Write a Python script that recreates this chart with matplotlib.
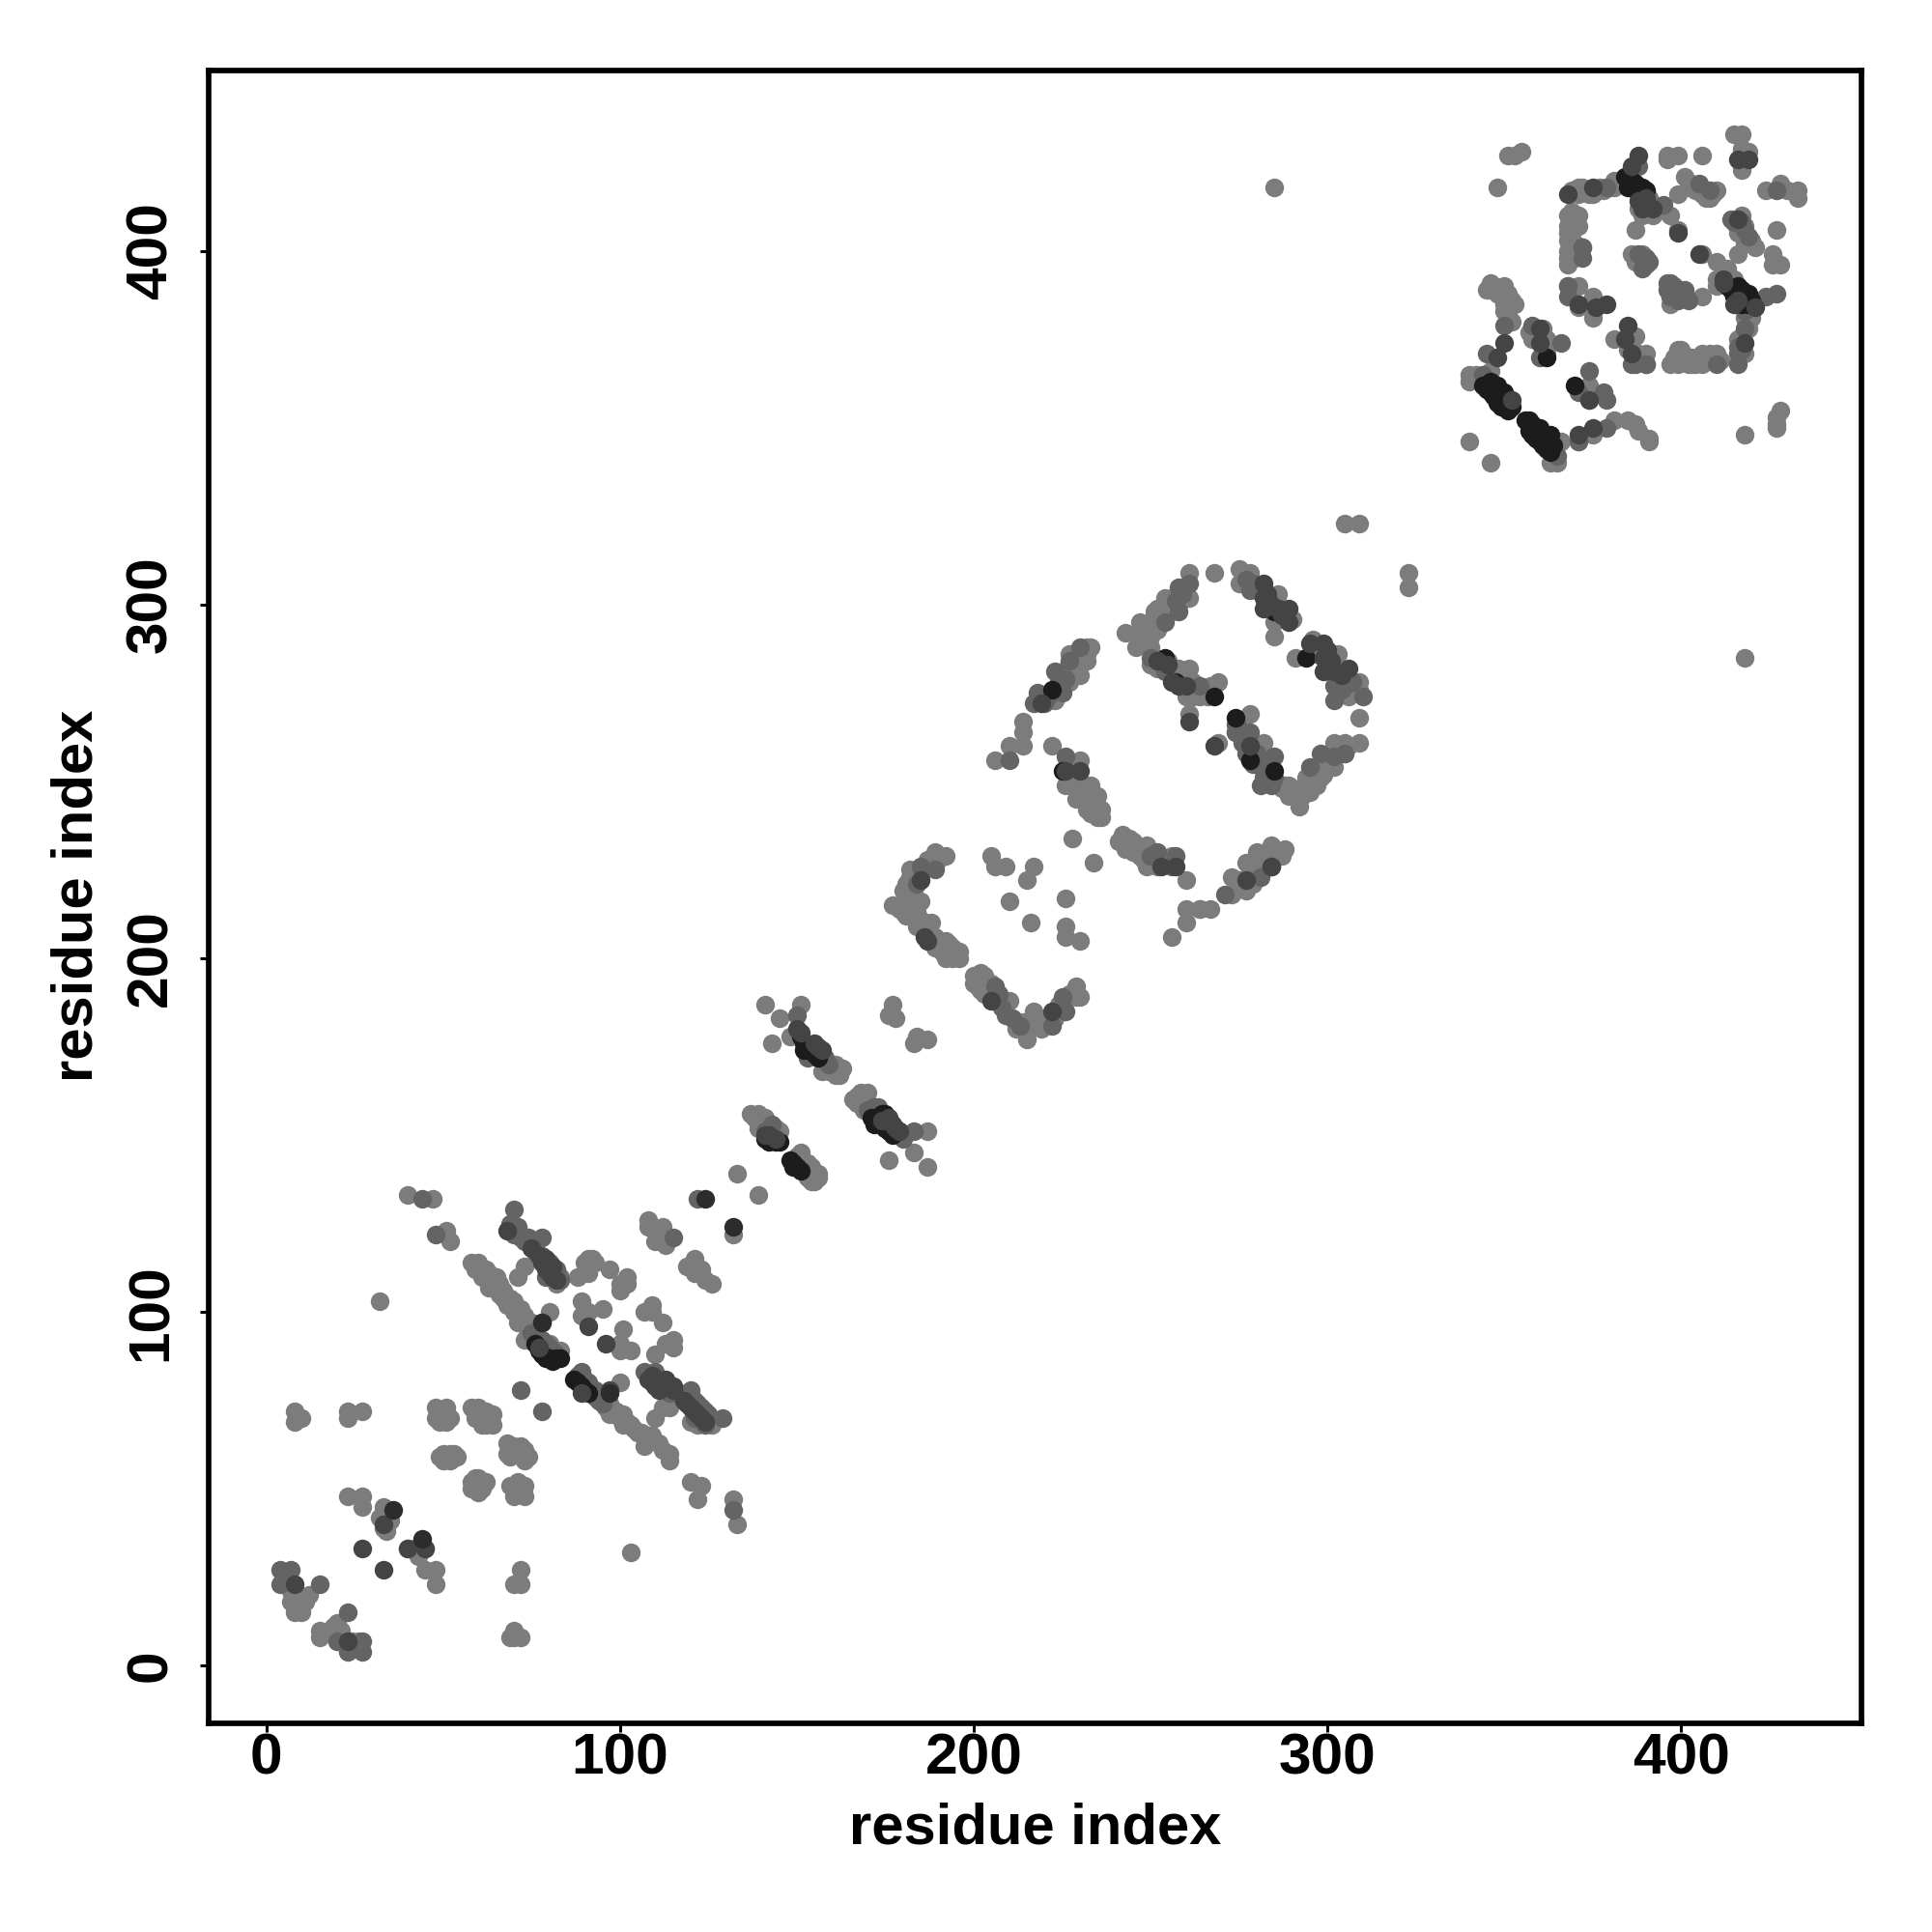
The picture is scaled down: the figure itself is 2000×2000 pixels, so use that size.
import matplotlib
matplotlib.use("Agg")
import matplotlib.pyplot as plt

plt.rcParams["font.family"] = ["Liberation Sans", "DejaVu Sans"]

# contacts (i, j) by shade
black_pts = [
    (78, 88), (81, 86), (87, 81), (76, 91), (77, 89), (79, 87), (80, 87), (82, 87), (83, 87),
    (88, 80), (89, 79), (90, 78), (91, 77), (142, 148), (143, 149), (141, 149), (144, 148),
    (145, 148), (149, 142), (148, 143), (149, 141), (150, 141), (151, 140),
    (151, 178), (152, 174), (152, 176), (153, 175), (154, 174), (155, 173), (156, 172),
    (171, 155), (172, 154), (172, 153), (173, 155), (174, 156), (175, 156), (175, 152),
    (176, 151), (177, 150), (225, 253), (222, 276), (254, 285), (257, 278), (268, 274),
    (274, 268), (278, 256), (285, 253), (294, 285), (285, 298),
    (344, 362), (348, 362), (346, 360), (348, 357), (350, 357), (350, 360), (345, 361),
    (346, 363), (347, 359), (349, 358), (351, 357), (352, 356), (349, 356), (351, 355),
    (356, 352), (357, 352), (360, 350), (358, 351), (359, 350), (357, 349), (358, 348),
    (359, 347), (360, 346), (361, 348), (361, 345), (362, 346), (363, 348), (362, 344),
    (364, 345), (363, 343), (362, 370), (370, 362),
    (384, 421), (385, 420), (386, 420), (387, 419), (385, 418), (386, 418), (388, 417),
    (389, 418), (390, 417), (388, 416), (389, 416),
    (413, 390), (414, 389), (416, 390), (416, 388), (417, 389), (419, 388), (415, 387),
    (420, 386), (418, 386), (417, 385), (419, 385), (420, 385),
]
dark_pts = [
    (8, 23), (23, 7), (27, 33), (33, 27), (33, 40), (40, 33), (45, 33),
    (75, 118), (77, 116), (78, 114), (79, 115), (79, 112), (80, 111), (81, 113), (81, 110),
    (82, 109), (68, 123), (91, 96), (96, 91), (78, 97), (77, 90), (89, 77),
    (97, 78), (108, 81), (109, 82), (109, 80), (110, 79), (111, 78), (112, 80), (113, 81),
    (114, 79), (115, 79), (115, 78), (118, 75), (119, 74), (120, 73), (121, 72), (122, 71),
    (123, 70), (124, 69), (141, 150), (142, 150), (144, 149), (150, 180), (151, 179),
    (155, 176), (156, 175), (157, 174), (174, 154), (176, 155), (177, 153), (178, 152),
    (179, 151), (185, 222), (186, 206), (187, 205), (205, 188), (222, 185),
    (226, 253), (230, 253), (219, 272), (277, 222), (252, 284), (255, 283), (256, 278),
    (258, 277), (282, 306), (282, 302), (282, 299), (283, 303), (284, 300), (286, 299),
    (287, 297), (289, 299), (289, 295), (295, 289), (299, 289), (299, 285), (299, 281),
    (300, 287), (300, 283), (301, 284), (302, 281), (304, 280),
    (306, 282), (261, 267), (268, 260), (278, 260), (253, 226), (257, 226), (260, 277),
    (284, 226), (352, 358), (350, 374), (348, 370), (360, 378), (360, 374), (375, 350),
    (371, 348), (374, 358), (385, 379), (384, 375), (386, 371), (418, 374), (416, 409),
    (412, 391), (412, 392), (405, 399), (416, 426), (419, 426), (388, 427), (386, 424),
    (390, 415), (388, 414), (389, 412), (392, 412),
    (399, 405), (368, 416), (375, 418), (371, 385), (376, 384), (379, 385),
    (415, 385), (416, 386), (421, 384),
]
mid_pts = [
    (4, 27), (7, 27), (4, 23), (15, 23), (23, 15), (20, 7), (27, 7), (27, 4), (23, 4),
    (44, 132), (48, 122), (70, 129), (71, 124), (74, 121), (78, 121), (79, 110),
    (69, 125), (70, 124), (70, 122), (71, 122), (72, 122), (72, 121), (73, 120), (74, 120),
    (76, 117), (76, 118), (78, 116), (80, 112), (80, 114), (83, 109), (82, 112),
    (78, 92), (79, 91), (80, 90), (81, 89), (82, 88), (76, 93), (75, 94),
    (72, 78), (78, 72), (88, 82), (89, 83), (90, 81), (91, 80), (91, 79), (92, 77), (93, 78),
    (93, 76), (94, 75), (95, 74), (107, 83), (110, 83), (111, 81), (113, 79), (114, 77),
    (116, 77), (119, 77), (120, 78), (118, 76), (120, 76), (121, 75), (122, 74), (123, 73),
    (124, 72), (125, 71), (121, 70), (129, 70), (124, 68), (115, 121), (132, 44), (122, 132),
    (143, 153), (141, 151), (150, 184), (158, 172), (153, 172), (158, 171), (159, 170),
    (170, 157), (172, 158), (173, 158), (180, 149), (179, 151),
    (183, 151), (184, 221), (185, 226), (189, 225), (206, 192), (207, 190), (206, 189),
    (208, 186), (209, 184), (211, 183), (213, 181), (222, 181),
    (226, 185), (225, 189), (218, 275), (217, 272), (220, 272), (221, 274), (224, 278),
    (226, 279), (225, 275), (250, 229), (252, 230), (257, 229), (256, 226),
    (271, 218), (281, 223), (284, 226), (230, 288), (227, 284), (223, 281), (210, 256),
    (226, 257), (250, 285), (254, 281), (258, 298), (258, 305), (254, 295), (257, 301),
    (259, 303), (261, 306), (264, 277), (274, 264), (274, 266), (275, 265), (276, 264),
    (277, 262), (276, 261), (277, 258), (278, 257), (280, 258), (279, 255), (281, 255),
    (283, 254), (282, 251), (283, 250), (285, 251),
    (278, 264), (278, 256), (282, 253), (285, 257),
    (281, 249), (284, 249), (295, 254), (298, 258), (302, 257), (302, 273), (305, 258),
    (302, 277), (305, 277), (310, 274), (277, 307), (279, 306), (280, 304), (278, 304),
    (303, 279), (304, 276), (307, 278),
    (371, 346), (379, 350), (358, 379), (366, 374), (360, 370), (374, 366), (371, 360),
    (378, 360), (379, 358), (368, 387), (368, 390), (372, 401), (386, 368), (390, 368),
    (396, 391), (401, 389), (399, 389), (402, 386), (387, 368), (390, 368), (410, 368),
    (416, 368), (418, 378), (427, 388), (424, 387), (419, 404), (418, 406), (405, 419),
    (408, 417), (427, 417), (388, 424), (388, 399), (390, 398), (391, 397), (389, 395),
    (397, 391), (396, 389), (399, 389), (399, 386), (397, 387), (379, 418), (372, 401),
    (372, 398), (395, 413), (345, 371), (344, 365), (350, 379), (365, 342),
    (416, 371), (417, 372), (416, 373), (418, 383), (414, 409), (415, 408), (417, 408),
]
light_pts = [
    # first domain, lower left
    (7, 21), (10, 19), (12, 20), (8, 19), (8, 15), (10, 15), (15, 10), (15, 8),
    (20, 12), (20, 9), (20, 7), (24, 7), (23, 48), (27, 48), (27, 45), (33, 45),
    (33, 39), (45, 33), (40, 33), (45, 27), (48, 27), (48, 23), (5, 25), (6, 24), (8, 20),
    (9, 20), (11, 18), (7, 18), (21, 10), (19, 11), (21, 8), (22, 7), (25, 6), (26, 7),
    (34, 41), (32, 42), (35, 41), (34, 38), (42, 33), (43, 31), (44, 34),
    (72, 27), (70, 23), (72, 23), (70, 10), (69, 8), (72, 8), (70, 8), (103, 32),
    (8, 72), (10, 70), (8, 69), (23, 72), (27, 72), (23, 70),
    (48, 73), (51, 73), (48, 70), (51, 69), (58, 73), (60, 73), (60, 70), (63, 70),
    (61, 68), (59, 70), (63, 69), (50, 60), (53, 60), (50, 58), (52, 58),
    (49, 71), (50, 72), (49, 69), (50, 70), (52, 70), (59, 71), (61, 71), (62, 72), (62, 68),
    (64, 68), (64, 71), (51, 59), (49, 59), (52, 60), (54, 59),
    (68, 63), (70, 62), (73, 60), (68, 60), (73, 58), (71, 60), (69, 62), (71, 61), (72, 62),
    (74, 59), (69, 59), (73, 61), (59, 53), (60, 51), (59, 50), (60, 49), (62, 52),
    (60, 53), (58, 52), (61, 50), (58, 50), (69, 51), (73, 51), (70, 48), (73, 48),
    (71, 52), (72, 50), (71, 49),
    # first domain, diagonals
    (40, 133), (47, 132), (51, 123), (52, 120), (58, 114), (60, 114), (59, 112),
    (60, 113), (62, 112), (64, 109), (65, 110), (67, 106), (67, 104), (69, 104), (70, 103),
    (71, 100), (73, 99), (76, 95), (74, 94), (75, 93),
    (63, 111), (61, 110), (66, 108), (63, 107), (66, 105), (68, 102), (72, 101),
    (70, 100), (72, 97), (75, 97), (80, 100), (74, 96), (73, 92), (71, 97), (83, 89),
    (80, 91), (83, 110), (82, 108), (73, 113), (71, 110), (90, 114), (93, 114),
    (88, 110), (91, 111), (91, 115), (92, 115), (97, 112), (102, 110), (100, 108),
    (102, 108), (100, 106), (89, 103), (91, 100), (95, 101), (89, 99),
    (109, 102), (107, 100), (109, 100), (112, 97), (101, 95), (100, 91), (103, 89),
    (100, 89), (115, 92), (113, 91), (110, 88), (115, 90),
    (100, 80), (96, 73), (98, 72), (99, 72), (97, 74), (97, 71), (100, 70), (101, 71),
    (101, 68), (102, 69), (103, 68), (104, 67), (105, 66), (106, 66), (108, 65), (109, 65),
    (107, 62), (111, 63), (112, 61), (114, 60), (114, 58),
    (110, 70), (114, 73), (112, 73), (125, 70), (126, 68), (122, 68), (120, 69),
    (108, 126), (108, 124), (112, 124), (111, 121), (110, 120), (113, 119),
    (121, 115), (119, 113), (123, 112), (121, 111), (124, 109), (126, 108),
    (120, 52), (123, 51), (122, 47), (132, 47), (133, 40), (133, 139), (139, 133),
    (132, 122), (32, 103),
    # second domain
    (137, 156), (139, 156), (141, 155), (139, 152), (141, 151), (145, 151),
    (138, 155), (140, 153), (140, 152), (142, 152), (143, 151), (144, 152), (139, 154),
    (141, 153), (151, 145), (152, 142), (154, 141), (156, 139), (155, 137), (153, 138),
    (150, 144), (151, 143), (152, 141), (153, 140), (154, 139), (155, 139), (156, 138),
    (155, 138), (153, 142), (154, 137),
    (141, 187), (145, 183), (151, 187), (143, 176), (148, 178), (161, 170), (161, 168),
    (160, 169), (161, 167), (162, 167), (163, 169), (159, 168),
    (162, 169), (157, 168), (168, 162), (170, 162), (167, 159), (169, 157), (187, 151),
    (166, 160), (167, 161), (169, 160), (171, 158), (168, 159),
    (176, 143), (183, 145), (187, 141), (177, 187), (176, 184), (178, 183),
    (184, 178), (183, 176), (187, 177),
    (189, 230), (192, 229), (182, 225), (181, 221), (181, 218), (177, 215), (185, 216),
    (180, 219), (182, 220), (182, 217), (183, 218), (179, 214), (180, 213), (185, 211),
    (187, 209), (189, 206), (190, 203), (191, 204), (191, 202), (194, 203), (195, 201),
    (196, 200), (192, 201), (189, 203), (182, 223), (183, 224), (186, 226), (187, 228),
    (190, 228), (200, 195), (201, 194), (203, 195), (204, 193), (201, 192), (203, 190),
    (212, 180), (214, 182), (216, 182), (219, 180), (220, 182), (223, 183), (224, 187),
    (227, 190),
    (181, 215), (184, 213), (181, 212), (184, 209), (188, 210), (192, 205), (193, 204),
    (196, 202), (192, 200), (194, 200), (202, 196), (200, 193), (205, 193), (202, 191),
    (210, 188), (213, 181), (217, 185), (215, 177), (217, 181), (229, 189), (230, 189),
    (229, 192), (205, 229), (206, 226), (209, 226), (217, 226), (215, 222), (210, 216),
    (226, 217), (216, 210), (226, 209), (226, 206), (230, 205),
    (228, 234), (234, 227), (242, 235), (244, 234), (241, 233), (246, 232), (249, 232),
    (243, 233), (245, 233), (247, 231), (248, 230), (249, 229), (251, 228), (243, 231),
    (245, 230), (246, 230), (248, 228), (250, 227), (252, 226), (254, 228), (255, 227),
    (247, 229), (256, 229), (249, 226), (260, 222), (260, 214), (264, 214), (260, 210),
    (256, 206), (264, 214), (267, 214), (273, 223), (277, 219), (273, 218), (277, 227),
    (275, 220), (276, 220), (275, 222), (278, 224), (278, 222), (279, 225), (279, 221),
    (282, 225), (282, 228), (283, 230), (285, 231), (286, 230), (287, 229),
    (280, 230), (284, 232), (288, 231),
    (214, 267), (214, 264), (210, 260), (214, 260), (206, 256), (222, 260), (230, 256),
    (226, 249), (229, 249), (233, 249), (229, 245), (235, 246), (232, 242), (236, 242),
    (227, 254), (228, 252), (228, 250), (230, 250), (231, 247), (232, 247), (233, 244),
    (234, 244), (235, 243), (233, 241), (235, 240), (236, 240),
    (234, 241), (232, 288), (232, 284), (230, 280), (223, 273), (227, 286), (228, 283),
    (229, 282), (225, 281), (227, 278), (232, 286), (231, 285), (233, 288),
    (261, 309), (268, 309), (275, 310), (278, 309), (275, 306), (286, 303), (290, 296),
    (285, 295), (285, 291), (261, 302), (254, 302), (251, 298), (254, 299), (247, 295),
    (259, 304), (256, 302), (255, 300), (252, 299), (253, 297), (249, 293), (248, 291),
    (252, 293), (251, 296), (258, 300), (256, 298),
    (250, 295), (243, 292), (250, 291), (247, 292), (246, 288), (250, 288),
    (250, 283), (251, 285), (252, 282), (255, 284), (255, 281), (256, 279), (258, 280),
    (259, 278), (262, 278), (261, 275), (263, 276), (262, 274), (266, 276), (267, 277),
    (266, 274), (258, 282), (261, 282), (260, 274), (264, 274), (269, 278), (261, 269),
    (269, 261), (274, 264), (278, 269), (282, 261), (281, 257), (288, 249), (289, 246),
    (287, 248), (289, 249), (290, 248), (293, 248), (293, 246), (294, 251), (296, 250),
    (296, 253), (297, 249), (299, 252), (300, 254), (300, 256), (303, 258), (304, 259),
    (306, 260), (292, 243),
    (292, 247), (295, 247), (295, 250), (298, 251), (302, 254), (302, 261), (305, 261),
    (309, 261), (305, 258), (309, 268), (296, 290), (291, 285), (303, 286), (309, 278),
    (296, 287), (297, 286), (302, 283), (308, 275), (307, 276), (309, 276),
    (306, 274), (323, 309), (323, 305), (305, 323), (309, 323), (285, 418), (418, 285),
    # third domain
    (340, 346), (346, 340), (340, 365), (342, 365), (346, 366), (340, 363),
    (366, 346), (363, 340), (365, 340), (381, 352), (385, 352), (387, 351), (388, 349),
    (391, 347), (391, 346), (371, 346), (375, 348),
    (346, 391), (350, 390), (351, 388), (352, 386), (350, 385), (352, 380),
    (345, 389), (347, 390), (348, 388), (349, 387), (350, 383), (353, 385), (351, 382),
    (358, 375), (362, 375), (362, 371), (374, 362), (374, 358), (360, 376), (361, 374),
    (359, 376), (361, 378), (357, 377),
    (368, 390), (371, 390), (371, 384), (375, 387), (375, 381),
    (381, 375), (387, 376), (385, 372), (388, 371), (390, 371),
    (397, 368), (399, 372), (399, 368), (404, 368), (402, 368), (406, 371), (410, 371),
    (398, 370), (400, 370), (401, 369), (403, 370), (405, 370), (407, 369), (408, 371),
    (409, 369), (411, 369), (403, 368), (400, 372),
    (406, 368), (416, 375), (418, 381), (420, 381), (418, 371), (417, 376), (419, 378),
    (420, 383),
    (410, 390), (410, 392), (415, 392), (413, 395), (410, 397), (406, 399), (406, 387),
    (416, 399), (421, 401), (426, 399), (428, 396), (426, 396), (427, 406),
    (417, 410), (416, 407), (420, 403), (416, 405), (418, 407), (419, 404), (418, 402),
    (415, 433), (417, 433), (419, 428), (417, 429),
    (417, 423), (406, 427), (396, 427), (399, 427), (396, 426), (401, 421), (410, 417),
    (402, 418), (403, 419), (404, 417), (405, 417), (406, 416), (407, 415), (409, 416),
    (408, 415), (399, 416), (424, 417), (428, 419), (430, 417), (433, 417), (433, 415),
    (371, 418), (371, 416), (375, 416), (381, 420), (381, 418), (369, 417), (373, 417),
    (372, 418), (374, 416), (377, 418), (376, 417), (378, 417), (380, 418), (383, 420),
    (382, 419),
    (387, 406), (389, 410), (392, 410), (397, 410), (399, 406), (391, 415), (388, 412),
    (389, 413), (390, 411), (392, 413), (393, 411),
    (368, 410), (371, 410), (368, 407), (371, 407), (368, 403), (368, 400), (368, 396),
    (369, 411), (369, 405), (369, 403), (369, 409), (370, 402), (369, 399), (370, 398),
    (368, 405), (368, 398),
    (386, 399), (389, 397), (390, 396), (388, 397), (387, 397), (389, 399),
    (397, 387), (397, 389), (398, 388), (397, 385), (398, 390), (398, 387),
    (348, 418), (351, 427), (353, 427), (355, 428),
    (418, 348), (428, 355), (427, 353), (427, 351), (427, 350),
]

# darker contacts that sit on top of the lighter ones
top_pts = [(36, 44), (44, 36), (124, 132), (132, 124), (97, 77), (78, 97)]

x_ticks = [0, 100, 200, 300, 400]
y_ticks = [0, 100, 200, 300, 400]

fig = plt.figure(figsize=(20, 20), dpi=100)
ax = fig.add_axes([0.108, 0.108, 0.8555, 0.8555])

size = 195
layers = [
    (light_pts, "#7c7c7c"),
    (mid_pts, "#646464"),
    (black_pts, "#1c1c1c"),
    (dark_pts, "#444444"),
    (top_pts, "#2c2c2c"),
]
for z, (pts, col) in enumerate(layers):
    xs, ys = zip(*pts)
    ax.scatter(xs, ys, s=size, c=col, linewidths=0, zorder=2 + z)

ax.set_xlim(-16.3, 451)
ax.set_ylim(-16.3, 451)
ax.set_xticks(x_ticks)
ax.set_yticks(y_ticks)
ax.tick_params(axis="x", length=6.2, width=2.2, labelsize=43.5, pad=0.5)
ax.tick_params(axis="y", length=6.2, width=2.2, labelsize=43.5, pad=16.5)
for lab in ax.get_xticklabels() + ax.get_yticklabels():
    lab.set_fontweight("bold")
for lab in ax.get_yticklabels():
    lab.set_rotation(90)
    lab.set_va("center")
for side in ax.spines.values():
    side.set_linewidth(4.1)

fig.text(840 / 1568, 1 - 1484 / 1568, "residue index", fontsize=43, fontweight="bold", ha="center", va="center")
fig.text(63 / 1568, 1 - 727 / 1568, "residue index", fontsize=43, fontweight="bold", ha="center", va="center", rotation=90)

fig.savefig("out.png", dpi=100)
